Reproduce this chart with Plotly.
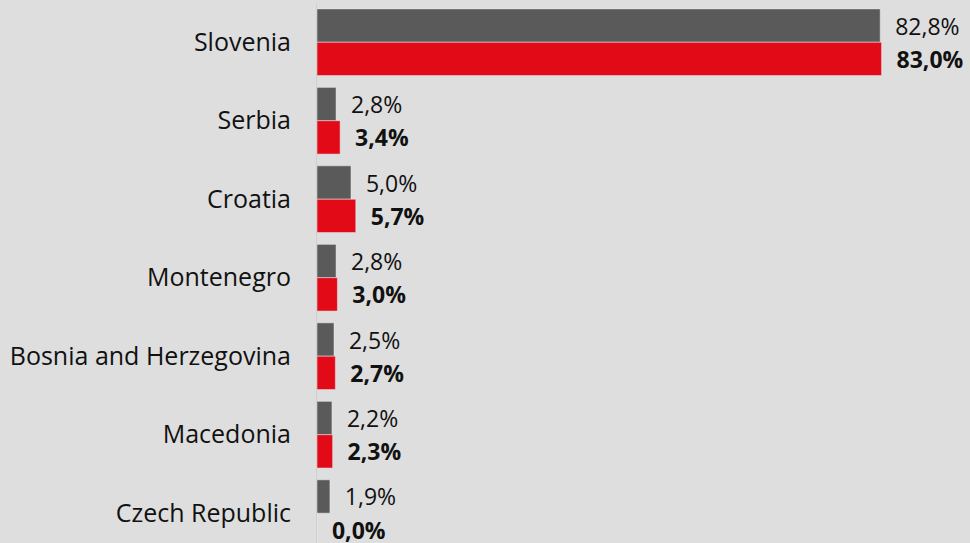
import plotly.graph_objects as go

countries = ["Slovenia", "Serbia", "Croatia", "Montenegro",
             "Bosnia and Herzegovina", "Macedonia", "Czech Republic"]
series_a = [82.8, 2.8, 5.0, 2.8, 2.5, 2.2, 1.9]   # grey
series_b = [83.0, 3.4, 5.7, 3.0, 2.7, 2.3, 0.0]   # red

GREY = "#5a5a5a"
RED = "#e30a17"
BG = "#dedede"
FONT = "Open Sans"
PAD = "\u00a0\u00a0"

def fmt(v):
    return f"{v:.1f}".replace(".", ",") + "%"

fig = go.Figure()
fig.add_trace(go.Bar(
    y=countries, x=series_a, orientation="h", marker_color=GREY,
    text=[PAD + fmt(v) for v in series_a], textposition="outside",
    textfont=dict(family=FONT, size=23, color="#111111"),
    constraintext="none", cliponaxis=False, name="A",
))
fig.add_trace(go.Bar(
    y=countries, x=series_b, orientation="h", marker_color=RED,
    text=[PAD + "<b>" + fmt(v) + "</b>" for v in series_b], textposition="outside",
    textfont=dict(family=FONT, size=23, color="#111111"),
    constraintext="none", cliponaxis=False, name="B",
))

fig.update_layout(
    width=970, height=543,
    paper_bgcolor=BG, plot_bgcolor=BG,
    margin=dict(l=317, r=0, t=3, b=0),
    barmode="group", bargap=0.15, bargroupgap=0,
    showlegend=False,
    font=dict(family=FONT, size=25, color="#111111"),
)
fig.update_xaxes(range=[0, 96.0], visible=False, showgrid=False, zeroline=False)
fig.update_yaxes(
    range=[6.38, -0.5], showgrid=False, zeroline=False,
    showline=True, linecolor="#cfcfcf", linewidth=1,
    ticks="", ticklabelstandoff=20,
    tickfont=dict(family=FONT, size=25, color="#111111"),
)

fig.write_html(
    "out.html",
    config={"displayModeBar": False},
    post_script="document.body.style.margin='0';document.body.style.background='#dedede';document.body.style.overflow='hidden';",
)
